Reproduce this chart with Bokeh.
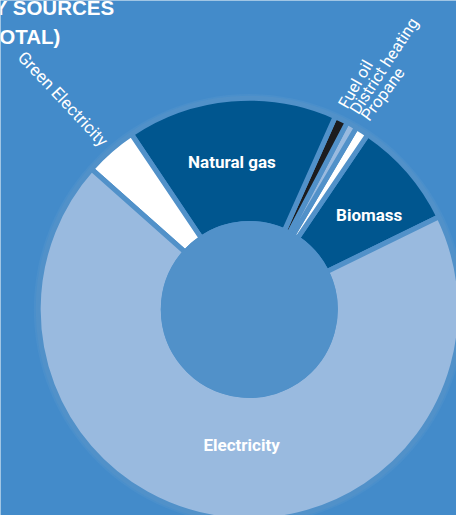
import math
from bokeh.plotting import figure
from bokeh.models import Range1d, ColumnDataSource
from bokeh.core.properties import value
from bokeh.embed import file_html
from bokeh.resources import INLINE

# ---- data ----
categories = ["Biomass", "Propane", "District heating", "Fuel oil",
              "Natural gas", "Green Electricity", "Electricity"]
shares = [8.3, 1.0, 0.8, 1.0, 16.1, 4.0, 68.8]   # % of total
slice_colors = ["#00568f", "#ffffff", "#99badf", "#1c1c1e",
                "#00568f", "#ffffff", "#99badf"]
title_lines = ["ENERGY SOURCES", "(% OF TOTAL)"]
inside_labels = ["Biomass", "Natural gas", "Electricity"]
outside_labels = ["Propane", "District heating", "Fuel oil", "Green Electricity"]

# ---- layout / style ----
BG = "#438bca"
DISC = "#5191c9"
RING = "#4a8fcb"
FONT = "Roboto"
TITLE_FONT = "Liberation Sans"
W, H = 472, 531
CX, CY = 257.5, H - 318.5
R_OUT, R_IN = 216.0, 91.5
GAP = 5
START = math.radians(26.0)

p = figure(width=456, height=515, output_backend="svg", toolbar_location=None,
           x_range=Range1d(0, W), y_range=Range1d(0, H), min_border=0)
p.axis.visible = False
p.grid.visible = False
p.outline_line_color = None
p.background_fill_color = BG
p.border_fill_color = BG

# slice angles
total = sum(shares)
starts, ends = [], []
a = START
for s in shares:
    starts.append(a)
    a += 2 * math.pi * s / total
    ends.append(a)
mids = [(s + e) / 2 for s, e in zip(starts, ends)]
mid = dict(zip(categories, mids))

# outer faint ring and disc
p.circle(x=[CX], y=[CY], radius=R_OUT + 7, fill_color=RING, line_color=None)
src = ColumnDataSource(dict(x=[CX] * len(shares), y=[CY] * len(shares),
                            start=starts, end=ends, color=slice_colors))
p.annular_wedge(x="x", y="y", inner_radius=R_IN - GAP / 2, outer_radius=R_OUT + GAP / 2,
                start_angle="start", end_angle="end", fill_color="color",
                line_color=DISC, line_width=GAP, source=src)
p.circle(x=[CX], y=[CY], radius=R_IN, fill_color=DISC, line_color=None)

# inside labels (polar offsets from slice middle)
inside_pos = {"Biomass": (158, -2.7), "Natural gas": (153, 1.8), "Electricity": (140, 4.6)}
for lab in inside_labels:
    r, da = inside_pos[lab]
    ang = mid[lab] + math.radians(da)
    p.text(x=[CX + r * math.cos(ang)], y=[CY + r * math.sin(ang)], text=[lab],
           text_font=value(FONT), text_font_style="bold", text_font_size="17px",
           text_color="white", text_align="center", text_baseline="middle")

# outside radial labels
for lab in outside_labels:
    m = mid[lab]
    if lab == "Green Electricity":
        r = 227
        p.text(x=[CX + r * math.cos(m)], y=[CY + r * math.sin(m)], text=[lab],
               angle=m - math.pi + math.radians(2),
               text_font=value(FONT), text_font_size="17px", text_color="white",
               text_align="right", text_baseline="alphabetic")
    else:
        ang = m + math.radians(1)
        r = 230
        p.text(x=[CX + r * math.cos(ang)], y=[CY + r * math.sin(ang)], text=[lab],
               angle=m - math.radians(4),
               text_font=value(FONT), text_font_size="16.5px", text_color="white",
               text_align="left", text_baseline="alphabetic")

# title (cut off at the left edge, as in the source)
p.text(x=[118, 62], y=[H - 7, H - 37], text=title_lines,
       text_font=value(TITLE_FONT), text_font_style="bold", text_font_size="20.5px",
       text_color="white", text_align="right", text_baseline="alphabetic")

open("out.html", "w").write(file_html(p, INLINE))
